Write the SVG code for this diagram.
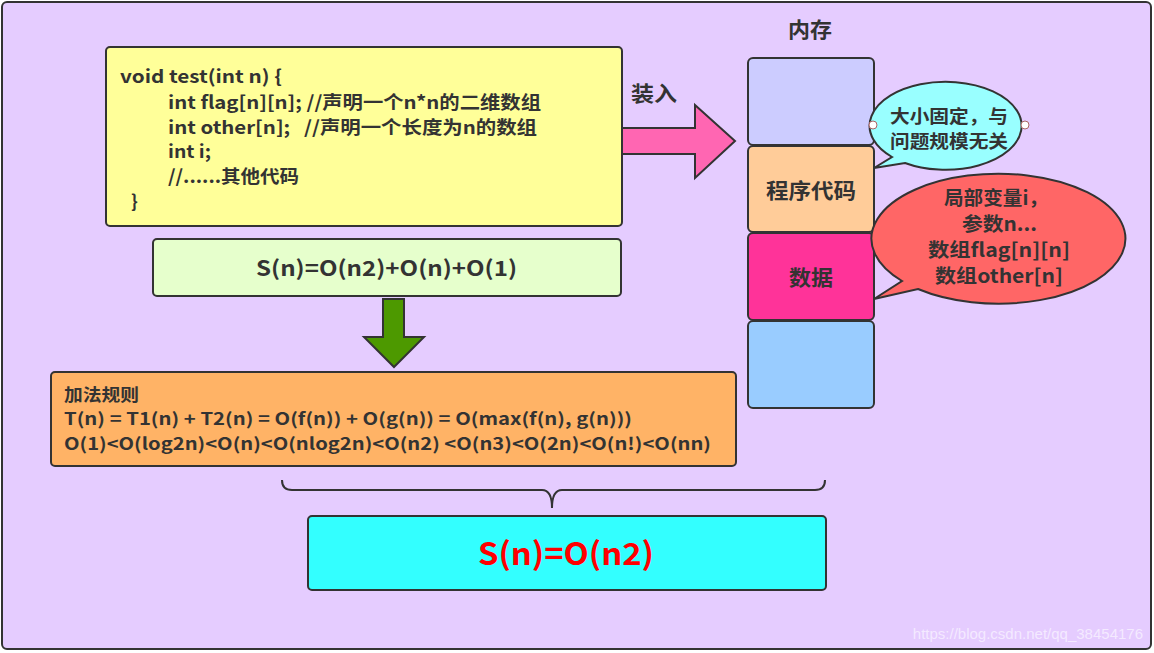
<svg xmlns="http://www.w3.org/2000/svg" width="1154" height="653" viewBox="0 0 1154 653">
<style>
.b{stroke:#333;stroke-width:2}
.t{font-family:"Noto Sans CJK SC","Microsoft YaHei",sans-serif;font-weight:bold;fill:#333}
</style>
<rect x="2" y="2" width="1149" height="647" rx="5" fill="#E5CCFF" class="b"/>
<g id="code">
<rect x="106" y="47" width="516" height="179" rx="4" fill="#FFFF99" class="b"/>
<g class="t" font-size="18">
<text x="120" y="83" textLength="162" lengthAdjust="spacingAndGlyphs">void test(int n) {</text>
<text x="168" y="109" textLength="373" lengthAdjust="spacingAndGlyphs">int flag[n][n]; //声明一个n*n的二维数组</text>
<text x="168" y="134" textLength="369" lengthAdjust="spacingAndGlyphs">int other[n];&#160;&#160; //声明一个长度为n的数组</text>
<text x="168" y="158" textLength="43" lengthAdjust="spacingAndGlyphs">int i;</text>
<text x="168" y="183" textLength="131" lengthAdjust="spacingAndGlyphs">//......其他代码</text>
<text x="131" y="208">}</text>
</g>
</g>
<g id="sum">
<rect x="153" y="239" width="468" height="57" rx="4" fill="#E6FFCC" class="b"/>
<text class="t" x="256" y="276" font-size="21" textLength="261" lengthAdjust="spacingAndGlyphs">S(n)=O(n2)+O(n)+O(1)</text>
</g>
<g id="rule">
<rect x="51" y="372" width="685" height="94" rx="4" fill="#FFB366" class="b"/>
<g class="t" font-size="17">
<text x="64" y="401" textLength="75" lengthAdjust="spacingAndGlyphs">加法规则</text>
<text x="64" y="425" textLength="568" lengthAdjust="spacingAndGlyphs">T(n) = T1(n) + T2(n) = O(f(n)) + O(g(n)) = O(max(f(n), g(n)))</text>
<text x="64" y="450" textLength="647" lengthAdjust="spacingAndGlyphs">O(1)&lt;O(log2n)&lt;O(n)&lt;O(nlog2n)&lt;O(n2) &lt;O(n3)&lt;O(2n)&lt;O(n!)&lt;O(nn)</text>
</g>
</g>
<g id="result">
<rect x="308" y="516" width="518" height="74" rx="4" fill="#33FFFF" class="b"/>
<text class="t" x="478" y="565" font-size="31" textLength="176" lengthAdjust="spacingAndGlyphs" style="fill:#FF0000">S(n)=O(n2)</text>
</g>
<g id="memory">
<text class="t" x="788" y="37" font-size="21" textLength="44" lengthAdjust="spacingAndGlyphs">内存</text>
<rect x="748" y="58" width="126" height="87" rx="5" fill="#CCCCFF" class="b"/>
<rect x="748" y="146" width="126" height="86" rx="5" fill="#FFCC99" class="b"/>
<text class="t" x="766" y="198" font-size="21" textLength="90" lengthAdjust="spacingAndGlyphs">程序代码</text>
<rect x="748" y="233" width="126" height="87" rx="5" fill="#FF3399" class="b"/>
<text class="t" x="789" y="285" font-size="21" textLength="44" lengthAdjust="spacingAndGlyphs">数据</text>
<rect x="748" y="321" width="126" height="87" rx="5" fill="#99CCFF" class="b"/>
</g>
<g id="callout1">
<path d="M892,157 A76,44 0 1 1 905,163 L874,168 Z" fill="#99FFFF" class="b"/>
<circle cx="873" cy="125" r="4" fill="#fff" stroke="#a66" stroke-width="1"/>
<circle cx="1025" cy="125" r="4" fill="#fff" stroke="#a66" stroke-width="1"/>
<g class="t" font-size="18">
<text x="890" y="123" textLength="118" lengthAdjust="spacingAndGlyphs">大小固定，与</text>
<text x="890" y="148" textLength="118" lengthAdjust="spacingAndGlyphs">问题规模无关</text>
</g>
</g>
<g id="callout2">
<path d="M902,281 A127,65 0 1 1 918,289 L874,299 Z" fill="#FF6666" class="b"/>
<g class="t" font-size="19">
<text x="944" y="205" textLength="104" lengthAdjust="spacingAndGlyphs">局部变量i，</text>
<text x="962" y="231" textLength="75" lengthAdjust="spacingAndGlyphs">参数n...</text>
<text x="928" y="257" textLength="142" lengthAdjust="spacingAndGlyphs">数组flag[n][n]</text>
<text x="935" y="283" textLength="128" lengthAdjust="spacingAndGlyphs">数组other[n]</text>
</g>
</g>
<g id="connectors">
<path d="M622,128 H695 V105 L735,141 L695,178 V154 H622 Z" fill="#FF66B2" class="b"/>
<text class="t" x="631" y="101" font-size="21" textLength="46" lengthAdjust="spacingAndGlyphs">装入</text>
<path d="M383,299 H404 V337 H424 L394,367 L364,337 H383 Z" fill="#4D9900" class="b"/>
<path d="M282,480 Q282,490 292,490 H542 Q552,490 552,508 Q552,490 562,490 H815 Q825,490 825,480" fill="none" stroke="#333" stroke-width="2"/>
</g>
<text x="1143" y="639" text-anchor="end" font-family="Liberation Sans,Arial,sans-serif" font-size="15" fill="#fff" fill-opacity="0.6">https://blog.csdn.net/qq_38454176</text>
</svg>
